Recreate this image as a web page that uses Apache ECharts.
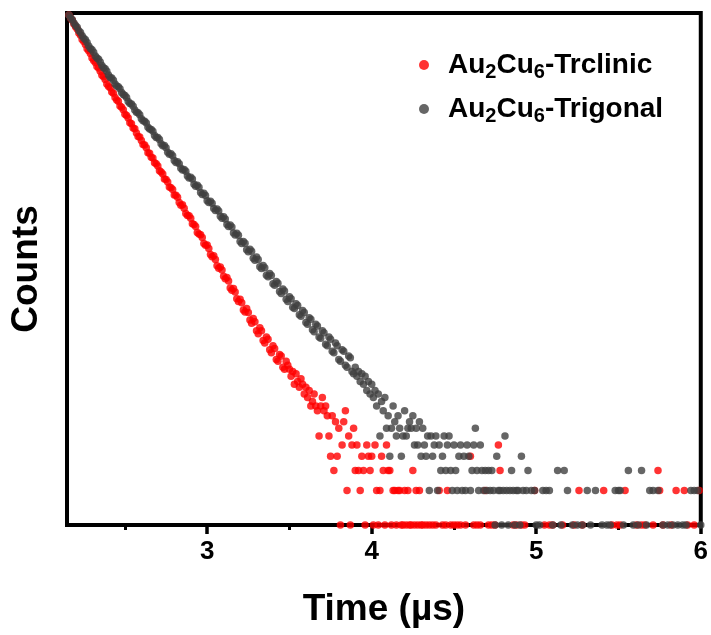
<!DOCTYPE html>
<html><head><meta charset="utf-8">
<script src="https://cdn.jsdelivr.net/npm/echarts@6/dist/echarts.min.js"></script>
<style>html,body{margin:0;padding:0;background:#fff}#chart{width:711px;height:635px}</style>
</head><body><div id="chart"></div>
<script>
const seriesNames = ['Au2Cu6-Trclinic', 'Au2Cu6-Trigonal'];
const seriesColors = ['#ff0000', '#404040'];
const xTickValues = [3, 4, 5, 6];
const xMinorTickValues = [2.5, 3.5, 4.5, 5.5];

const trclinicTime = [
2.16,2.17,2.18,2.19,2.20,2.21,2.22,2.23,2.24,2.25,2.26,2.27,2.28,2.29,2.30,2.31,2.32,2.33,2.34,2.35,
2.36,2.37,2.38,2.39,2.40,2.41,2.42,2.43,2.44,2.45,2.46,2.47,2.48,2.49,2.50,2.51,2.52,2.53,2.54,2.55,
2.56,2.57,2.58,2.59,2.60,2.61,2.62,2.63,2.64,2.65,2.66,2.67,2.68,2.69,2.70,2.71,2.72,2.73,2.74,2.75,
2.76,2.77,2.78,2.79,2.80,2.81,2.82,2.83,2.84,2.85,2.86,2.87,2.88,2.89,2.90,2.91,2.92,2.93,2.94,2.95,
2.96,2.97,2.98,2.99,3.00,3.01,3.02,3.03,3.04,3.05,3.06,3.07,3.08,3.09,3.10,3.11,3.12,3.13,3.14,3.15,
3.16,3.17,3.18,3.19,3.20,3.21,3.22,3.23,3.24,3.25,3.26,3.27,3.28,3.29,3.30,3.31,3.32,3.33,3.34,3.35,
3.36,3.37,3.38,3.39,3.40,3.41,3.42,3.43,3.44,3.45,3.46,3.47,3.48,3.49,
3.50,3.51,3.52,3.53,3.54,3.55,3.56,3.57,3.58,3.59,
3.60,3.61,3.62,3.63,3.64,3.65,3.66,3.67,3.68,3.69,
3.70,3.71,3.72,3.73,3.74,3.75,3.76,3.77,3.78,3.79,
3.80,3.81,3.82,3.83,3.84,3.85,3.86,3.87,3.88,3.89,
3.90,3.91,3.92,3.93,3.94,3.95,3.96,3.97,3.98,3.99,
4.00,4.01,4.02,4.03,4.04,4.05,4.06,4.07,4.08,4.09,
4.10,4.11,4.12,4.13,4.14,4.15,4.16,4.17,4.18,4.19,
4.20,4.21,4.22,4.23,4.24,4.25,4.26,4.27,4.28,4.29,
4.30,
4.31,4.33,4.35,4.37,4.39,4.41,4.43,4.45,4.46,4.48,4.50,4.52,4.54,4.57,4.60,4.62,4.64,4.66,4.69,4.71,
4.73,4.75,4.77,4.78,4.86,4.88,4.91,4.93,4.99,5.05,5.08,5.10,5.16,5.23,5.26,5.28,5.41,5.46,5.49,5.51,
5.54,5.61,5.64,5.66,5.71,5.74,5.75,5.77,5.82,5.85,5.90,5.92,5.96,5.99
];
const trclinicCounts = [
28800,27100,25900,24100,22700,21700,20100,19200,17600,16900,15900,14600,14000,13300,12100,11500,11100,10200,9900,9300,
8550,8300,7850,7200,6850,6650,6100,5950,5480,5200,5080,4620,4500,4280,3900,3800,3620,3300,3230,2960,
2920,2680,2500,2470,2300,2120,2100,1990,1800,1780,1640,1620,1470,1440,1380,1250,1220,1170,1060,1050,
1000,905,890,860,770,765,735,660,625,630,590,530,508,505,482,430,425,408,362,350,
346,326,290,280,281,262,232,222,226,210,185,176,180,170,150,142,146,136,118,113,
117,109,95,90,94,88,76,73,78,72,62,58,64,60,50,47,53,50,41,39,
44,42,34,32,37,35,28,27,31,30,24,23,27,25,
23,20,22,17,21,18,16,19,17,14,
16,13,15,11,12,14,11,10,6,11,
13,10,11,9,6,4,9,3,8,4,
7,1,5,8,10,2,6,1,5,7,
3,5,3,2,4,3,1,5,4,3,
4,1,5,2,1,2,4,3,1,5,
3,3,1,2,2,1,2,2,1,1,
2,1,2,1,1,3,1,2,1,2,
1,
1,1,1,1,1,2,1,1,2,1,1,1,1,1,4,1,1,1,2,1,
1,1,5,3,1,1,1,1,2,1,1,1,1,1,2,1,2,1,1,1,
2,1,1,1,1,3,2,1,1,2,2,1,1,2
];

const trigonalTime = [
2.16,2.17,2.18,2.19,2.20,2.21,2.22,2.23,2.24,2.25,2.26,2.27,2.28,2.29,2.30,2.31,2.32,2.33,2.34,2.35,
2.36,2.37,2.38,2.39,2.40,2.41,2.42,2.43,2.44,2.45,2.46,2.47,2.48,2.49,2.50,2.51,2.52,2.53,2.54,2.55,
2.56,2.57,2.58,2.59,2.60,2.61,2.62,2.63,2.64,2.65,2.66,2.67,2.68,2.69,2.70,2.71,2.72,2.73,2.74,2.75,
2.76,2.77,2.78,2.79,2.80,2.81,2.82,2.83,2.84,2.85,2.86,2.87,2.88,2.89,2.90,2.91,2.92,2.93,2.94,2.95,
2.96,2.97,2.98,2.99,3.00,3.01,3.02,3.03,3.04,3.05,3.06,3.07,3.08,3.09,3.10,3.11,3.12,3.13,3.14,3.15,
3.16,3.17,3.18,3.19,3.20,3.21,3.22,3.23,3.24,3.25,3.26,3.27,3.28,3.29,3.30,3.31,3.32,3.33,3.34,3.35,
3.36,3.37,3.38,3.39,3.40,3.41,3.42,3.43,3.44,3.45,3.46,3.47,3.48,3.49,3.50,3.51,3.52,3.53,3.54,3.55,
3.56,3.57,3.58,3.59,3.60,3.61,3.62,3.63,3.64,3.65,3.66,3.67,3.68,3.69,3.70,3.71,3.72,3.73,3.74,3.75,
3.76,3.77,3.78,3.79,3.80,3.81,3.82,3.83,3.84,3.85,3.86,3.87,3.88,3.89,
3.90,3.91,3.92,3.93,3.94,3.95,3.96,3.97,3.98,3.99,
4.00,4.01,4.02,4.03,4.04,4.05,4.06,4.07,4.08,4.09,
4.10,4.11,4.12,4.13,4.14,4.15,4.16,4.17,4.18,4.19,
4.20,4.21,4.22,4.23,4.24,4.25,4.26,4.27,4.28,4.29,
4.30,4.31,4.32,4.33,4.34,4.35,4.36,4.37,4.38,4.39,
4.40,4.41,4.42,4.43,4.44,4.45,4.46,4.47,4.48,4.49,
4.50,4.51,4.52,4.53,4.54,4.55,4.56,4.57,4.58,4.59,
4.60,4.61,4.62,4.63,4.64,4.65,4.66,4.67,4.68,4.69,
4.70,4.71,4.72,4.73,4.74,4.75,4.76,4.77,4.78,4.79,
4.80,4.81,4.82,4.83,4.84,4.85,4.86,4.87,4.88,4.89,
4.90,
4.91,4.92,4.94,4.95,4.97,4.99,5.00,5.02,5.04,5.06,5.08,5.10,5.13,5.15,5.17,5.19,5.22,5.25,5.28,5.31,
5.33,5.36,5.40,5.43,5.45,5.48,5.50,5.51,5.53,5.56,5.59,5.62,5.64,5.67,5.69,5.71,5.74,5.77,5.80,5.83,
5.86,5.89,5.91,5.94,5.96,5.98,6.00
];
const trigonalCounts = [
28800,27200,26200,24500,23300,22500,21000,20300,19000,18000,17500,16600,15400,14700,14300,13600,12600,12100,11800,11200,
10400,9950,9750,9300,8600,8200,8100,7750,7200,6900,6800,6520,6050,5800,5700,5460,5060,4850,4800,4600,
4250,4070,4030,3860,3560,3420,3400,3270,3010,2900,2880,2770,2550,2450,2450,2350,2160,2070,2080,1990,
1820,1750,1760,1690,1540,1480,1500,1445,1315,1270,1285,1240,1125,1080,1100,1060,955,915,935,900,
810,778,795,762,685,660,678,650,585,563,580,556,500,482,496,475,425,408,420,403,
358,344,356,342,302,290,302,291,255,245,258,248,215,207,220,210,181,175,186,178,
153,148,158,152,129,125,135,130,110,106,116,111,94,90,99,95,80,78,86,83,
69,67,75,72,59,57,65,63,51,49,57,55,44,43,50,48,38,37,44,42,
33,32,39,37,28,27,34,33,25,24,30,29,22,21,
24,20,22,18,21,17,20,15,18,14,
17,13,15,11,14,6,12,10,13,7,
9,4,7,11,8,6,9,7,4,6,
10,6,7,8,7,9,5,7,5,8,
4,7,5,4,6,2,6,4,5,6,
2,5,3,4,6,3,5,6,3,2,
5,3,2,4,5,2,4,2,5,4,
2,3,5,7,3,2,5,3,2,3,
2,3,2,3,2,1,4,2,2,1,
2,6,2,1,2,3,2,1,2,2,
1,
4,2,2,3,2,2,1,1,2,2,2,1,3,1,3,2,1,1,1,2,
1,2,1,1,1,2,2,2,1,3,1,1,3,1,2,2,2,1,1,1,
1,1,1,2,2,2,1
];

const FONT = '"Liberation Sans", Arial, Helvetica, sans-serif';
function pairs(times, counts) { return times.map((t, i) => [t, counts[i]]); }

const chart = echarts.init(document.getElementById('chart'), null, { renderer: 'canvas' });
chart.setOption({
  animation: false,
  backgroundColor: '#fff',
  grid: { left: 66, right: 8.5, top: 13, bottom: 110, show: true, borderColor: '#000', borderWidth: 4, backgroundColor: 'transparent' },
  legend: {
    orient: 'vertical', left: 414, top: 46, itemWidth: 10, itemHeight: 10, itemGap: 13, icon: 'circle',
    data: seriesNames,
    formatter: function (name) {
      const m = name.match(/^Au(\d)Cu(\d)(.*)$/);
      return '{p|Au}{s|' + m[1] + '}{a|Cu}{s|' + m[2] + '}{a|' + m[3] + '}';
    },
    textStyle: {
      fontFamily: FONT, fontWeight: 'bold', fontSize: 28, color: '#000',
      rich: {
        p: { fontFamily: FONT, fontWeight: 'bold', fontSize: 28, lineHeight: 34, color: '#000', padding: [0, 0, 0, 14] },
        a: { fontFamily: FONT, fontWeight: 'bold', fontSize: 28, lineHeight: 34, color: '#000' },
        s: { fontFamily: FONT, fontWeight: 'bold', fontSize: 20, lineHeight: 16, verticalAlign: 'bottom', color: '#000' }
      }
    }
  },
  xAxis: [{
    type: 'value', min: 2.148, max: 6, position: 'bottom',
    name: 'Time (µs)', nameLocation: 'middle', nameGap: 66,
    nameTextStyle: { fontFamily: FONT, fontWeight: 'bold', fontSize: 37, color: '#000' },
    axisLine: { show: true, lineStyle: { color: '#000', width: 4 } },
    axisTick: { show: true, customValues: xTickValues, length: 9, lineStyle: { color: '#000', width: 3.5 } },
    axisLabel: { customValues: xTickValues, fontFamily: FONT, fontWeight: 'bold', fontSize: 26, color: '#000', margin: 14 },
    splitLine: { show: false }
  }, {
    type: 'value', min: 2.148, max: 6, position: 'bottom',
    axisLine: { show: false },
    axisTick: { show: true, customValues: xMinorTickValues, length: 5, lineStyle: { color: '#000', width: 3 } },
    axisLabel: { show: false },
    splitLine: { show: false }
  }],
  yAxis: {
    type: 'log', logBase: 10, min: 1, max: 30000,
    name: 'Counts', nameLocation: 'middle', nameGap: 22,
    nameTextStyle: { fontFamily: FONT, fontWeight: 'bold', fontSize: 37, color: '#000' },
    axisLine: { show: false }, axisTick: { show: false }, axisLabel: { show: false }, splitLine: { show: false }
  },
  series: [{
    name: seriesNames[0], type: 'scatter', symbol: 'circle', symbolSize: 7.5, clip: false,
    itemStyle: { color: seriesColors[0] }, data: pairs(trclinicTime, trclinicCounts)
  }, {
    name: seriesNames[1], type: 'scatter', symbol: 'circle', symbolSize: 7.5, clip: false,
    itemStyle: { color: seriesColors[1] }, data: pairs(trigonalTime, trigonalCounts)
  }]
});
</script></body></html>
